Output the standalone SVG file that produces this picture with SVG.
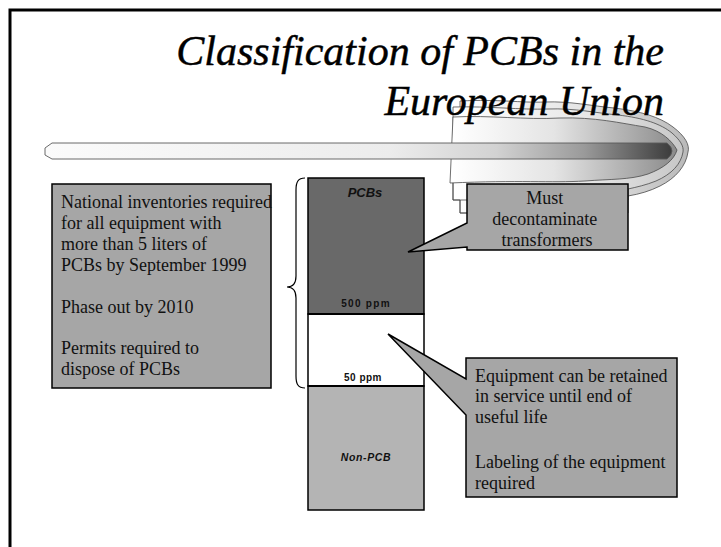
<svg xmlns="http://www.w3.org/2000/svg" width="721" height="547" viewBox="0 0 721 547">
  <defs>
    <linearGradient id="tubeFill" x1="45" y1="0" x2="672" y2="0" gradientUnits="userSpaceOnUse">
      <stop offset="0" stop-color="#fbfbfb"/>
      <stop offset="0.55" stop-color="#ececec"/>
      <stop offset="0.72" stop-color="#d2d2d2"/>
      <stop offset="0.86" stop-color="#9a9a9a"/>
      <stop offset="1" stop-color="#3c3c3c"/>
    </linearGradient>
    <linearGradient id="flameOuter" x1="455" y1="0" x2="690" y2="0" gradientUnits="userSpaceOnUse">
      <stop offset="0" stop-color="#ffffff"/>
      <stop offset="0.6" stop-color="#e2e2e2"/>
      <stop offset="1" stop-color="#b8b8b8"/>
    </linearGradient>
    <linearGradient id="flameMid" x1="455" y1="0" x2="685" y2="0" gradientUnits="userSpaceOnUse">
      <stop offset="0" stop-color="#ffffff"/>
      <stop offset="0.6" stop-color="#e6e6e6"/>
      <stop offset="1" stop-color="#c6c6c6"/>
    </linearGradient>
    <linearGradient id="flameInner" x1="453" y1="0" x2="678" y2="0" gradientUnits="userSpaceOnUse">
      <stop offset="0" stop-color="#ffffff"/>
      <stop offset="0.45" stop-color="#e4e4e4"/>
      <stop offset="1" stop-color="#8a8a8a"/>
    </linearGradient>
    <style>
      .frame { fill: none; stroke: #000; stroke-width: 3; }
      .body { font-family: "Liberation Serif", "Times New Roman", serif; font-size: 18px; fill: #111; }
      .box { fill: #a6a6a6; stroke: #000; stroke-width: 1.5; }
      .flame { stroke: #4a4a4a; stroke-width: 0.8; }
      .col { stroke: #000; stroke-width: 1.5; }
      .lbl { font-family: "Liberation Sans", Arial, sans-serif; font-weight: bold; fill: #111; text-anchor: middle; }
    </style>
  </defs>

  <!-- page frame -->
  <path class="frame" d="M10,547 V10 H721"/>

  <!-- comet decoration: layered flame and tube -->
  <g id="comet">
    <path class="flame" fill="url(#flameOuter)" d="M460,101 C500,99 520,103 545,102 C570,101 592,106 614,108 C640,111 660,117 673,127 C685,136 690,145 688,152 C686,166 676,178 660,186 C650,191 640,194 628,196 V213 H460 Z"/>
    <path class="flame" fill="url(#flameMid)" d="M453,107 C490,106 520,110 548,109 C575,108 596,113 618,115 C644,118 661,124 672,133 C680,140 684,146 683,152 C681,164 672,174 656,181 C646,185 637,187 628,189 V200 H453 Z"/>
    <path class="flame" fill="url(#flameInner)" d="M453,117 C490,115 525,120 560,118 C595,117 620,123 645,127 C662,131 672,141 677,150 C674,160 664,168 648,174 C630,180 610,179 585,181 C550,183 520,180 450,183 Z"/>
    <path class="flame" fill="none" d="M453,183 V200 H460 V213 H467"/>
    <path fill="url(#tubeFill)" stroke="#5a5a5a" stroke-width="0.9" d="M52,143 H667 Q672,147 672,151 Q672,155 667,159 H52 L45,155 V148 Z"/>
  </g>

  <!-- title -->
  <g id="title" font-family="Liberation Serif, Times New Roman, serif" font-style="italic" font-size="42" text-anchor="end" fill="#000" stroke="#000" stroke-width="0.45">
    <text x="664" y="65">Classification of PCBs in the</text>
    <text x="664" y="115">European Union</text>
  </g>

  <!-- left text box -->
  <g id="requirements">
    <rect class="box" x="52" y="184" width="219" height="204"/>
    <text class="body" font-size="17.5">
      <tspan x="61" y="208">National inventories required</tspan>
      <tspan x="61" y="229">for all equipment with</tspan>
      <tspan x="61" y="250">more than 5 liters of</tspan>
      <tspan x="61" y="271">PCBs by September 1999</tspan>
      <tspan x="61" y="313">Phase out by 2010</tspan>
      <tspan x="61" y="354">Permits required to</tspan>
      <tspan x="61" y="375">dispose of PCBs</tspan>
    </text>
  </g>

  <!-- brace spanning the regulated range -->
  <g id="brace">
    <path fill="none" stroke="#000" stroke-width="1.2" d="M305,178 C298,178 296,182 296,190 V276 C296,283 293,287 287,287 C293,287 296,291 296,298 V376 C296,384 298,388 305,388"/>
  </g>

  <!-- concentration column -->
  <g id="column">
    <rect class="col" x="308" y="178" width="116" height="136" fill="#696969"/>
    <rect class="col" x="308" y="314" width="116" height="72" fill="#ffffff"/>
    <rect class="col" x="308" y="386" width="116" height="124" fill="#b4b4b4"/>
    <line x1="308" y1="314" x2="424" y2="314" stroke="#000" stroke-width="2.2"/>
    <line x1="308" y1="386" x2="424" y2="386" stroke="#000" stroke-width="2.2"/>
    <text class="lbl" x="365" y="197" font-size="13" font-style="italic">PCBs</text>
    <text class="lbl" x="366" y="307" font-size="10" letter-spacing="1.3">500 ppm</text>
    <text class="lbl" x="363" y="381" font-size="10" letter-spacing="0.5">50 ppm</text>
    <text class="lbl" x="366" y="461" font-size="10.5" font-style="italic" letter-spacing="0.6">Non-PCB</text>
  </g>

  <!-- callout: above 500 ppm -->
  <g id="callout-decontaminate">
    <path class="box" d="M467,184 H628 V250 H467 V247 L408,252 L467,223 Z"/>
    <text class="body" text-anchor="middle">
      <tspan x="547" y="204">Must</tspan>
      <tspan x="547" y="225">decontaminate</tspan>
      <tspan x="547" y="246">transformers</tspan>
    </text>
  </g>

  <!-- callout: 50 to 500 ppm -->
  <g id="callout-retain">
    <path class="box" d="M466,358 H677 V497 H466 V415 L388,334 L466,379 Z"/>
    <text class="body">
      <tspan x="475" y="382">Equipment can be retained</tspan>
      <tspan x="475" y="402">in service until end of</tspan>
      <tspan x="475" y="423">useful life</tspan>
      <tspan x="475" y="468">Labeling of the equipment</tspan>
      <tspan x="475" y="489">required</tspan>
    </text>
  </g>
</svg>
